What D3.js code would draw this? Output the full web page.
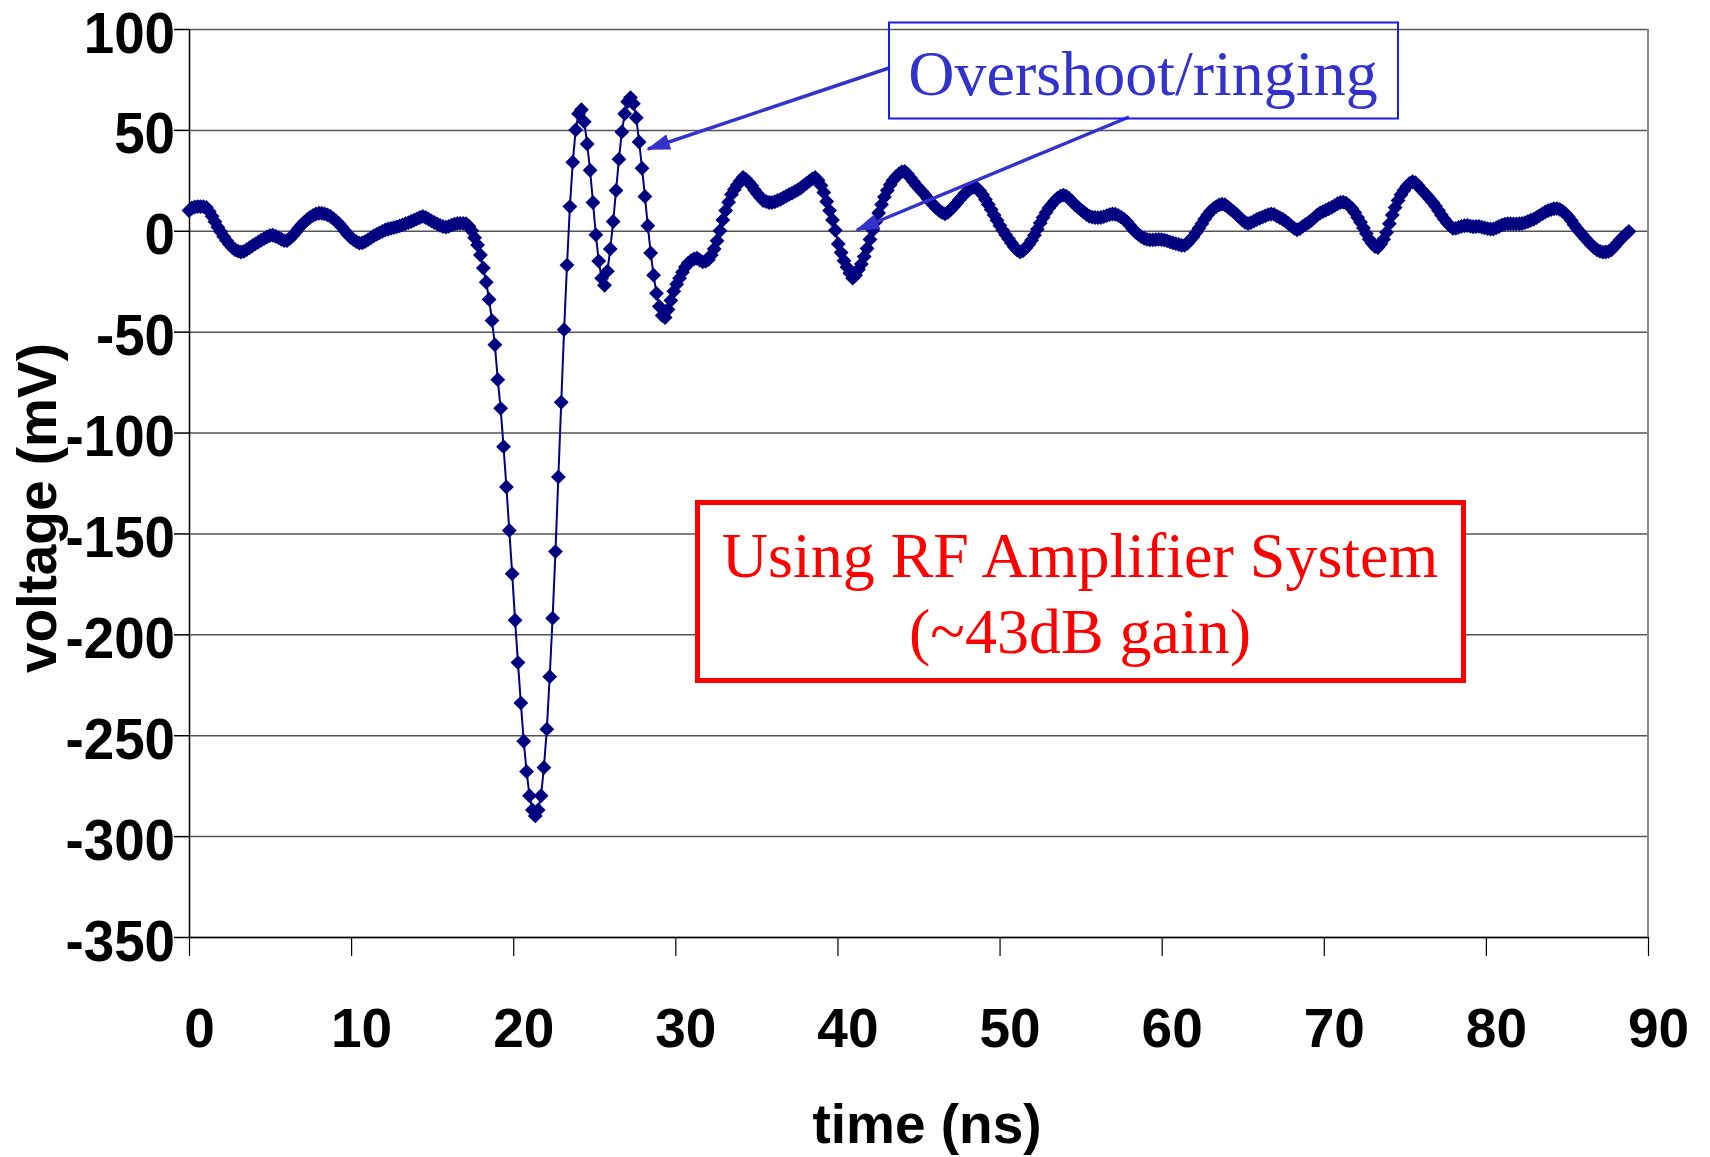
<!DOCTYPE html>
<html>
<head>
<meta charset="utf-8">
<script src="https://cdn.jsdelivr.net/npm/d3@7"></script>
<style>
  body { margin: 0; background: #fff; }
  svg { display: block; }
</style>
</head>
<body>
<script>
// scope trace, one sample every 0.178 ns
var sampleInterval = 0.178;

var voltage = [
  10, 11.3, 11.8, 12, 12, 12, 11.6, 9.6, 7.2, 4.5,
  1.8, -0.5, -2.8, -4.8, -6.7, -8.3, -9.4, -10.1, -10.5, -10.2,
  -9.3, -8.4, -7.4, -6.5, -5.6, -4.7, -3.9, -3.1, -2.4, -2.2,
  -2.7, -3.4, -4.2, -4.9, -4.8, -3.8, -2.4, -0.6, 1.3, 2.9,
  4.3, 5.6, 6.7, 7.6, 8.3, 8.7, 8.7, 8.4, 7.9, 7.1,
  6, 4.8, 3.5, 1.8, 0, -1.8, -3.2, -4.4, -5.4, -6.1,
  -6, -5.4, -4.5, -3.5, -2.6, -1.8, -1, -0.3, 0.4, 0.9,
  1.2, 1.6, 1.9, 2.4, 2.9, 3.5, 4, 4.6, 5.3, 5.9,
  6.6, 7.1, 6.6, 5.8, 4.9, 4.1, 3.4, 2.7, 2.1, 1.8,
  2.2, 2.8, 3.3, 3.6, 3.7, 3.7, 3.5, 2.3, 0, -3.5,
  -7, -12, -18.5, -25.5, -34, -44.5, -56.5, -73.8, -88, -107,
  -127, -148.5, -170, -193, -214, -234, -253, -268, -280, -287,
  -290, -287, -280, -266, -247, -221, -192, -159, -122, -85,
  -49, -17, 12, 34, 50, 58, 60, 54, 43, 30,
  14, -2, -15, -23.5, -27, -20, -9, 4.6, 20, 35.5,
  49, 58, 64, 66, 63, 56, 44, 31, 17, 2.5,
  -11, -22, -31, -37.5, -42, -43, -39, -34.5, -30, -26.5,
  -23.5, -20.5, -18, -16, -14.8, -14, -13.6, -14.5, -15.4, -15.2,
  -14.3, -12, -9, -5, 0, 5.4, 10, 14.2, 18, 20.5,
  22.7, 24.7, 26.5, 25.5, 24, 22.3, 20.2, 18.3, 16.6, 15,
  14.5, 14, 14, 14.4, 15, 15.6, 16.4, 17.2, 18, 18.7,
  19.5, 20.3, 21.2, 22.4, 23.5, 24.6, 25.7, 26.4, 25, 22.5,
  19, 14.5, 10, 5.4, 0.2, -6.5, -10.8, -14.8, -18, -21,
  -23.5, -22, -19.2, -16.5, -12.8, -8.8, -4.3, 0.3, 4.5, 8.8,
  13, 16.8, 20, 22.8, 25, 26.8, 28.2, 29.2, 29.4, 28.2,
  26.3, 24.4, 22.6, 21, 19.5, 17.8, 16, 14.3, 12.8, 11.3,
  10, 9, 8.4, 9.2, 10.5, 12, 13.7, 15.4, 17, 18.7,
  20, 21, 21.5, 21.2, 19.8, 17.8, 15.5, 13, 10.5, 7.8,
  5.2, 2.6, 0.2, -2, -4, -6, -8, -9.6, -10.5, -10,
  -8.5, -6.8, -4.7, -2.2, 0.8, 3.9, 6.6, 9, 11.3, 13,
  14.8, 16.2, 17.2, 17.7, 17.2, 16, 14.5, 13, 11.7, 10.5,
  9.3, 8.2, 7.2, 6.8, 6.6, 6.5, 6.6, 7, 7.5, 8,
  8.3, 8.2, 7.6, 6.8, 5.8, 4.5, 2.8, 1, -0.6, -1.8,
  -2.9, -3.7, -4.3, -4.5, -4.5, -4.4, -4.3, -4.4, -4.6, -5,
  -5.5, -6, -6.4, -6.8, -7.2, -7.2, -6.2, -4.6, -2.9, -0.9,
  1.3, 3.5, 5.8, 7.8, 9.7, 11, 12, 12.8, 13.2, 12.9,
  11.8, 10.6, 9.5, 8.2, 6.8, 5.4, 4.2, 3.6, 4, 4.8,
  5.6, 6.2, 6.8, 7.4, 8, 8.3, 8.1, 7.3, 6.5, 5.7,
  4.8, 3.6, 2.4, 1.2, 0.5, 1.1, 2.2, 3.2, 4.1, 5.2,
  6.5, 7.8, 8.8, 9.5, 10.2, 10.9, 11.6, 12.5, 13.4, 14,
  14.2, 13.7, 12.5, 11.1, 9, 6.6, 4.2, 1.4, -1.4, -4.2,
  -6.2, -7.8, -8.3, -6.5, -4.2, -0.8, 3.5, 7.8, 11.5, 15,
  17.8, 20, 22, 23.5, 24.3, 23.8, 22.3, 20.5, 19, 17.5,
  15.8, 14.1, 12.2, 10, 7.8, 5.8, 4, 2.5, 1.2, 1.2,
  1.7, 2.2, 2.5, 2.6, 2.3, 2, 2.1, 2.2, 1.8, 1.4,
  1.1, 0.9, 0.9, 1.4, 2.1, 2.8, 3.3, 3.5, 3.5, 3.4,
  3.4, 3.5, 3.6, 4, 4.6, 5.2, 5.7, 6.6, 7.5, 8.4,
  9.3, 10, 10.5, 10.9, 11, 10.6, 9.7, 8.5, 7, 5.1,
  3, 1.1, -0.6, -2.2, -3.9, -5.5, -7, -8.4, -9.5, -10.2,
  -10.6, -10.5, -10.2, -9.4, -7.8, -6.1, -4.4, -3, -1.6, -0.3
];

var xTicks = [0, 10, 20, 30, 40, 50, 60, 70, 80, 90];
var yTicks = [100, 50, 0, -50, -100, -150, -200, -250, -300, -350];

var xTitle = "time (ns)",
    yTitle = "voltage (mV)";

var noteBlue = "Overshoot/ringing";
var noteRed = ["Using RF Amplifier System", "(~43dB gain)"];

var width = 1710,
    height = 1157;

// plot area edges (window.top is taken, so no bare "top")
var plotL = 189, plotR = 1648, plotT = 29, plotB = 937;

var svg = d3.select("body").append("svg")
    .attr("width", width)
    .attr("height", height);

var x = d3.scaleLinear().domain([0, 90]).range([plotL, plotR]);
var y = d3.scaleLinear().domain([-350, 100]).range([plotB, plotT]);

var axisFont = "'Liberation Sans', Arial, sans-serif";
var serif = "'Liberation Serif', 'Times New Roman', serif";

// horizontal gridlines
var grid = svg.append("g")
    .attr("transform", "translate(" + plotL + ",0)")
    .call(d3.axisLeft(y).tickValues(yTicks).tickSize(-(plotR - plotL)).tickFormat(""));
grid.select(".domain").remove();
grid.selectAll("line").attr("stroke", "#555").attr("stroke-width", 1.5);

// right border of the plot area
svg.append("line")
    .attr("x1", plotR).attr("x2", plotR)
    .attr("y1", plotT).attr("y2", plotB)
    .attr("stroke", "#888").attr("stroke-width", 2);

// y axis
var yAxis = svg.append("g")
    .attr("transform", "translate(" + plotL + ",0)")
    .call(d3.axisLeft(y).tickValues(yTicks).tickSize(15).tickSizeOuter(0)
      .tickFormat(function(d) { return String(d); }));
yAxis.select(".domain").attr("stroke", "#000").attr("stroke-width", 1.5);
yAxis.selectAll("line").attr("stroke", "#000").attr("stroke-width", 1.5);
yAxis.selectAll("text")
    .attr("x", null).attr("dy", null).attr("y", 23)
    .attr("transform", "translate(-14,0) scale(0.96,1)")
    .attr("fill", "#000")
    .style("font-family", axisFont)
    .style("font-weight", "bold")
    .style("font-size", "57px");

// x axis
var xAxis = svg.append("g")
    .attr("transform", "translate(0," + plotB + ")")
    .call(d3.axisBottom(x).tickValues(xTicks).tickSize(19).tickSizeOuter(0));
xAxis.select(".domain").attr("stroke", "#000").attr("stroke-width", 1.5);
xAxis.selectAll("line").attr("stroke", "#000").attr("stroke-width", 1.2);
xAxis.selectAll("text")
    .attr("x", 10).attr("dy", null).attr("y", 110)
    .attr("fill", "#000")
    .style("font-family", axisFont)
    .style("font-weight", "bold")
    .style("font-size", "55px");

// axis titles
svg.append("text")
    .attr("x", 927).attr("y", 1143)
    .attr("text-anchor", "middle")
    .style("font-family", axisFont).style("font-weight", "bold").style("font-size", "55px")
    .text(xTitle);

svg.append("text")
    .attr("transform", "translate(56,508) rotate(-90)")
    .attr("text-anchor", "middle")
    .style("font-family", axisFont).style("font-weight", "bold").style("font-size", "55px")
    .text(yTitle);

// the trace
var points = voltage.map(function(v, i) { return [i * sampleInterval, v]; });

var line = d3.line()
    .x(function(d) { return x(d[0]); })
    .y(function(d) { return y(d[1]); });

svg.append("path")
    .datum(points)
    .attr("d", line)
    .attr("fill", "none")
    .attr("stroke", "#000080")
    .attr("stroke-width", 2);

var diamond = d3.symbol().type(d3.symbolSquare).size(110);

svg.append("g").selectAll("path")
    .data(points)
  .enter().append("path")
    .attr("d", diamond)
    .attr("transform", function(d) { return "translate(" + x(d[0]) + "," + y(d[1]) + ") rotate(45)"; })
    .attr("fill", "#000080");

// red note box
svg.append("rect")
    .attr("x", 697.5).attr("y", 502.5)
    .attr("width", 766).attr("height", 178)
    .attr("fill", "#fff")
    .attr("stroke", "#ff0000").attr("stroke-width", 5);

svg.append("g").selectAll("text")
    .data(noteRed)
  .enter().append("text")
    .attr("x", 1080)
    .attr("y", function(d, i) { return 577 + i * 76; })
    .attr("text-anchor", "middle")
    .attr("fill", "#ff0000")
    .style("font-family", serif).style("font-size", "64px")
    .text(function(d) { return d; });

// blue callout with arrows
var defs = svg.append("defs");
defs.append("marker")
    .attr("id", "head")
    .attr("markerUnits", "userSpaceOnUse")
    .attr("markerWidth", 24).attr("markerHeight", 16)
    .attr("refX", 22).attr("refY", 8)
    .attr("orient", "auto")
  .append("path")
    .attr("d", "M0,0 L24,8 L0,16 Z")
    .attr("fill", "#3333cc");

var arrows = [
  [[889, 68], [648, 149]],
  [[1129, 117], [857, 230]]
];

svg.append("g").selectAll("line")
    .data(arrows)
  .enter().append("line")
    .attr("x1", function(d) { return d[0][0]; })
    .attr("y1", function(d) { return d[0][1]; })
    .attr("x2", function(d) { return d[1][0]; })
    .attr("y2", function(d) { return d[1][1]; })
    .attr("stroke", "#3333cc")
    .attr("stroke-width", 3.5)
    .attr("marker-end", "url(#head)");

svg.append("rect")
    .attr("x", 889).attr("y", 22.5)
    .attr("width", 509).attr("height", 96)
    .attr("fill", "none")
    .attr("stroke", "#1a1aff").attr("stroke-width", 2);

svg.append("text")
    .attr("x", 1143).attr("y", 95)
    .attr("text-anchor", "middle")
    .attr("fill", "#3333cc")
    .style("font-family", serif).style("font-size", "64px")
    .text(noteBlue);
</script>
</body>
</html>
